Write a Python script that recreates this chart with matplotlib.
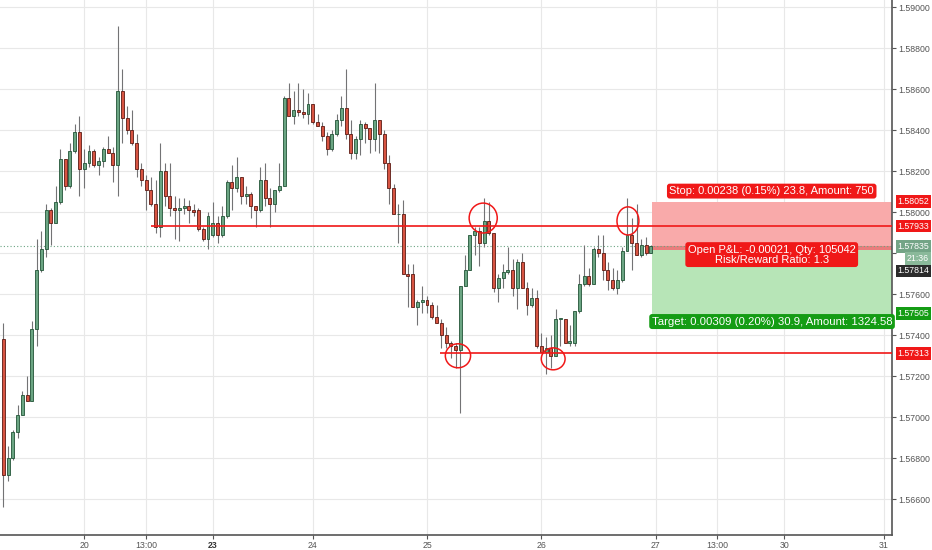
import numpy as np
import matplotlib.pyplot as plt
from matplotlib.patches import Ellipse, Rectangle

plt.rcParams['font.family'] = ['Liberation Sans', 'DejaVu Sans']

# hourly candles (index 0 = first visible bar)
opens = [
    1.5738, 1.5672, 1.5680, 1.5693, 1.5701, 1.5711, 1.5708, 1.5743, 1.5772, 1.5782,
    1.5801, 1.5795, 1.5805, 1.5826, 1.5813, 1.5830, 1.5839, 1.5821, 1.5824, 1.5830,
    1.5823, 1.5825, 1.5831, 1.5829, 1.5823, 1.5859, 1.5846, 1.5840, 1.5834, 1.5821,
    1.5816, 1.5811, 1.5804, 1.5793, 1.5820, 1.5808, 1.5802, 1.5801, 1.5802, 1.5803,
    1.5801, 1.5801, 1.5792, 1.5787, 1.5789, 1.5795, 1.5789, 1.5798, 1.5815, 1.5812,
    1.5817, 1.5808, 1.5809, 1.5803, 1.5801, 1.5816, 1.5807, 1.5804, 1.5811, 1.5813,
    1.5856, 1.5847, 1.5850, 1.5849, 1.5848, 1.5853, 1.5844, 1.5842, 1.5837, 1.5831,
    1.5838, 1.5845, 1.5851, 1.5838, 1.5829, 1.5836, 1.5843, 1.5841, 1.5836, 1.5845,
    1.5838, 1.5824, 1.5812, 1.5799, 1.5799, 1.5770, 1.5770, 1.5754, 1.5756, 1.5757,
    1.5755, 1.5749, 1.5746, 1.5740, 1.5736, 1.5735, 1.5733, 1.5764, 1.5772, 1.5789,
    1.5791, 1.5785, 1.5796, 1.5790, 1.5763, 1.5768, 1.5771, 1.5772, 1.5763, 1.5776,
    1.5763, 1.5755, 1.5758, 1.5735, 1.5732, 1.5734, 1.5730, 1.5748, 1.5748, 1.5736,
    1.5736, 1.5752, 1.5765, 1.5769, 1.5765, 1.5782, 1.5780, 1.5772, 1.5767, 1.5763,
    1.5767, 1.5781, 1.5789, 1.5785, 1.5779, 1.5784, 1.5780,
]
highs = [
    1.5746, 1.5686, 1.5694, 1.5706, 1.5713, 1.5720, 1.5747, 1.5787, 1.5791, 1.5804,
    1.5802, 1.5813, 1.5831, 1.5826, 1.5834, 1.5843, 1.5847, 1.5831, 1.5833, 1.5831,
    1.5827, 1.5832, 1.5837, 1.5832, 1.5891, 1.5870, 1.5852, 1.5850, 1.5838, 1.5824,
    1.5818, 1.5817, 1.5816, 1.5834, 1.5824, 1.5824, 1.5808, 1.5807, 1.5807, 1.5806,
    1.5804, 1.5802, 1.5793, 1.5800, 1.5805, 1.5798, 1.5803, 1.5816, 1.5823, 1.5827,
    1.5817, 1.5813, 1.5810, 1.5803, 1.5822, 1.5824, 1.5812, 1.5811, 1.5824, 1.5857,
    1.5863, 1.5859, 1.5863, 1.5860, 1.5858, 1.5853, 1.5848, 1.5844, 1.5839, 1.5840,
    1.5848, 1.5857, 1.5870, 1.5845, 1.5837, 1.5845, 1.5844, 1.5841, 1.5863, 1.5845,
    1.5840, 1.5828, 1.5814, 1.5804, 1.5806, 1.5775, 1.5775, 1.5757, 1.5764, 1.5759,
    1.5756, 1.5755, 1.5748, 1.5744, 1.5737, 1.5736, 1.5764, 1.5779, 1.5789, 1.5793,
    1.5793, 1.5807, 1.5805, 1.5790, 1.5770, 1.5775, 1.5783, 1.5777, 1.5777, 1.5780,
    1.5766, 1.5763, 1.5762, 1.5741, 1.5739, 1.5740, 1.5753, 1.5748, 1.5748, 1.5745,
    1.5752, 1.5770, 1.5784, 1.5773, 1.5783, 1.5789, 1.5789, 1.5776, 1.5773, 1.5772,
    1.5783, 1.5807, 1.5797, 1.5804, 1.5787, 1.5788, 1.5784,
]
lows = [
    1.5656, 1.5669, 1.5679, 1.5690, 1.5701, 1.5708, 1.5708, 1.5735, 1.5771, 1.5778,
    1.5784, 1.5795, 1.5804, 1.5811, 1.5812, 1.5829, 1.5808, 1.5812, 1.5822, 1.5822,
    1.5818, 1.5822, 1.5829, 1.5815, 1.5808, 1.5834, 1.5838, 1.5833, 1.5817, 1.5813,
    1.5801, 1.5803, 1.5790, 1.5788, 1.5803, 1.5798, 1.5787, 1.5786, 1.5799, 1.5795,
    1.5798, 1.5791, 1.5786, 1.5782, 1.5788, 1.5785, 1.5788, 1.5797, 1.5801, 1.5810,
    1.5804, 1.5804, 1.5797, 1.5793, 1.5800, 1.5803, 1.5793, 1.5800, 1.5810, 1.5813,
    1.5847, 1.5843, 1.5847, 1.5846, 1.5843, 1.5843, 1.5842, 1.5835, 1.5828, 1.5830,
    1.5837, 1.5842, 1.5836, 1.5826, 1.5826, 1.5828, 1.5834, 1.5829, 1.5830, 1.5829,
    1.5821, 1.5804, 1.5799, 1.5785, 1.5770, 1.5754, 1.5754, 1.5745, 1.5751, 1.5751,
    1.5748, 1.5746, 1.5734, 1.5734, 1.5729, 1.5724, 1.5702, 1.5764, 1.5772, 1.5779,
    1.5774, 1.5783, 1.5789, 1.5761, 1.5756, 1.5763, 1.5770, 1.5759, 1.5753, 1.5763,
    1.5750, 1.5754, 1.5734, 1.5732, 1.5721, 1.5724, 1.5730, 1.5735, 1.5736, 1.5735,
    1.5735, 1.5751, 1.5764, 1.5764, 1.5765, 1.5778, 1.5767, 1.5762, 1.5762, 1.5760,
    1.5766, 1.5781, 1.5772, 1.5779, 1.5778, 1.5779, 1.5780,
]
closes = [
    1.5672, 1.5680, 1.5693, 1.5701, 1.5711, 1.5708, 1.5743, 1.5772, 1.5782, 1.5801,
    1.5795, 1.5805, 1.5826, 1.5813, 1.5830, 1.5839, 1.5821, 1.5824, 1.5830, 1.5823,
    1.5825, 1.5831, 1.5829, 1.5823, 1.5859, 1.5846, 1.5840, 1.5834, 1.5821, 1.5816,
    1.5811, 1.5804, 1.5793, 1.5820, 1.5808, 1.5802, 1.5801, 1.5802, 1.5803, 1.5801,
    1.5800, 1.5792, 1.5787, 1.5798, 1.5795, 1.5789, 1.5798, 1.5815, 1.5812, 1.5817,
    1.5808, 1.5809, 1.5803, 1.5801, 1.5816, 1.5807, 1.5804, 1.5811, 1.5813, 1.5856,
    1.5847, 1.5850, 1.5849, 1.5848, 1.5853, 1.5844, 1.5842, 1.5837, 1.5831, 1.5838,
    1.5845, 1.5851, 1.5838, 1.5829, 1.5836, 1.5843, 1.5841, 1.5836, 1.5845, 1.5838,
    1.5824, 1.5812, 1.5799, 1.5799, 1.5770, 1.5769, 1.5754, 1.5756, 1.5757, 1.5755,
    1.5749, 1.5746, 1.5740, 1.5736, 1.5735, 1.5733, 1.5764, 1.5772, 1.5789, 1.5791,
    1.5785, 1.5796, 1.5790, 1.5763, 1.5768, 1.5771, 1.5772, 1.5763, 1.5776, 1.5763,
    1.5755, 1.5758, 1.5735, 1.5732, 1.5734, 1.5730, 1.5748, 1.5748, 1.5736, 1.5737,
    1.5752, 1.5765, 1.5769, 1.5765, 1.5782, 1.5780, 1.5772, 1.5767, 1.5763, 1.5767,
    1.5781, 1.5789, 1.5785, 1.5779, 1.5784, 1.5780, 1.57835,
]

# time axis labels (bar index -> label), future bars included
tick_bars = [17, 30, 44, 65, 89, 113, 137, 150, 164, 185]
tick_labels = ['20', '13:00', '23', '24', '25', '26', '27', '13:00', '30', '31']
week_start = '23'

# drawn levels and position tool
level_high = 1.57933
level_low = 1.57313
level_high_start = 31
level_low_start = 91.7
entry = 1.57814
stop = 1.58052
target = 1.57505
last_price = 1.57835
countdown = '21:36'

# hand drawn circles: bar, price, width (bars), height (price)
circles = [
    (100.8, 1.57972, 5.9, 0.00146),
    (95.5, 1.57300, 5.3, 0.00117),
    (115.5, 1.57285, 5.0, 0.00107),
    (131.2, 1.57958, 4.6, 0.00137),
]

UP, DOWN = '#6ba583', '#d75442'
UP_EDGE, DOWN_EDGE = '#225437', '#5b1a13'
RED = '#f01818'
GREEN = '#149c14'
AXIS_GREY = '#555555'

fig = plt.figure(figsize=(9.32, 5.5), dpi=100)
ax = fig.add_axes([0, 14.7 / 550, 891.7 / 932, 535.3 / 550])

x = np.arange(len(opens))
o = np.array(opens)
h = np.array(highs)
l = np.array(lows)
c = np.array(closes)
up = c >= o

# wicks and bodies
ax.vlines(x, l, h, color='#737375', lw=0.8, zorder=2)
body = np.maximum(np.abs(c - o), 0.00002)
ax.bar(x, body, bottom=np.minimum(o, c), width=0.62,
       color=np.where(up, UP, DOWN), edgecolor=np.where(up, UP_EDGE, DOWN_EDGE),
       linewidth=0.6, zorder=3)

xmin, xmax = -0.69, 186.6
ax.set_xlim(xmin, xmax)
ax.set_ylim(1.56424, 1.59036)

# position tool (short)
x0 = x[-1] + 0.2
ax.add_patch(Rectangle((x0, entry), xmax - x0, stop - entry, fc='#f9aaaa', ec='none', zorder=1))
ax.add_patch(Rectangle((x0, target), xmax - x0, entry - target, fc='#b7e5b7', ec='none', zorder=1))
ax.add_patch(Rectangle((x0, entry), xmax - x0, last_price - entry, fc='#ea7d7d', ec='none', zorder=1.5))

# horizontal levels
ax.hlines(level_high, level_high_start, xmax, color=RED, lw=1.2, zorder=4)
ax.hlines(level_low, level_low_start, xmax, color=RED, lw=1.2, zorder=4)
ax.axhline(last_price, color=UP, lw=0.8, ls=(0, (1, 2)), zorder=1.8)

for cx, cy, w, hh in circles:
    ax.add_patch(Ellipse((cx, cy), w, hh, fill=False, ec=RED, lw=1.1, zorder=6))

mid = (x0 + xmax) / 2
ax.annotate('Stop: 0.00238 (0.15%) 23.8, Amount: 750', xy=(mid, stop),
            xytext=(0, 4), textcoords='offset points', ha='center', va='bottom',
            fontsize=8, color='white', zorder=7,
            bbox=dict(boxstyle='round,pad=0.22,rounding_size=0.25', fc=RED, ec='none'))
ax.annotate('Open P&L: -0.00021, Qty: 105042\nRisk/Reward Ratio: 1.3', xy=(mid, entry),
            xytext=(0, -3), textcoords='offset points', ha='center', va='center',
            fontsize=8, color='white', linespacing=1.0, zorder=7,
            bbox=dict(boxstyle='round,pad=0.22,rounding_size=0.25', fc=RED, ec='none'))
t = ax.annotate('Target: 0.00309 (0.20%) 30.9, Amount: 1324.58', xy=(x0, target),
                xytext=(0, -2), textcoords='offset points', ha='left', va='top',
                fontsize=8.2, color='white', zorder=7,
                bbox=dict(boxstyle='round,pad=0.22,rounding_size=0.25', fc=GREEN, ec='none'))
t.set_clip_on(True)

# axes styling (the 1.57800 label sits under the price tags)
ax.yaxis.tick_right()
yt = np.arange(1.566, 1.5901, 0.002)
ax.set_yticks(yt)
ax.set_yticklabels(['' if abs(v - 1.578) < 1e-6 else f'{v:.5f}' for v in yt])
ax.set_xticks(tick_bars)
ax.set_xticklabels(tick_labels)
ax.tick_params(axis='both', length=3, width=0.8, color=AXIS_GREY, labelcolor=AXIS_GREY,
               labelsize=6.3, pad=2)
ax.tick_params(axis='x', pad=1)
for lab in ax.get_xticklabels():
    if lab.get_text() == week_start:
        lab.set_fontweight('bold')
        lab.set_color('#333333')
ax.grid(True, color='#e8e8e8', lw=0.8, zorder=0)
ax.set_axisbelow(True)
for s in ['left', 'top']:
    ax.spines[s].set_visible(False)
for s in ['right', 'bottom']:
    ax.spines[s].set_color(AXIS_GREY)
    ax.spines[s].set_linewidth(1.2)


# price tags on the right scale
def price_tag(y, text, bg, dy=0, dx=4.2):
    ax.annotate(text, xy=(1, y), xycoords=('axes fraction', 'data'),
                xytext=(dx, dy), textcoords='offset points', ha='left', va='center',
                fontsize=6.3, color='white', annotation_clip=False, zorder=8,
                bbox=dict(boxstyle='square,pad=0.22', fc=bg, ec='none'))


price_tag(stop, f'{stop:.5f}', RED)
price_tag(level_high, f'{level_high:.5f}', RED)
price_tag(last_price, f'{last_price:.5f}', '#73a486')
price_tag(last_price, countdown, '#8ab99a', dy=-9.2, dx=11)
price_tag(entry, f'{entry:.5f}', '#2b2b2b', dy=-14.8)
price_tag(target, f'{target:.5f}', GREEN)
price_tag(level_low, f'{level_low:.5f}', RED)

fig.savefig('out.png', dpi=100, facecolor='white')
